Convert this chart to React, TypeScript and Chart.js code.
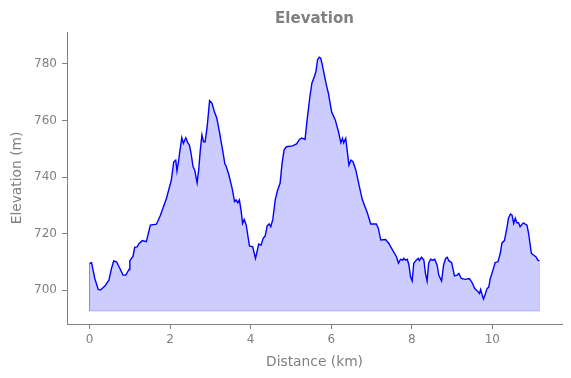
import React, { useEffect, useRef } from "react";
import { Chart, registerables } from "chart.js";

Chart.register(...registerables);

const distKm: number[] = [
  0.0, 0.05, 0.13, 0.215, 0.27, 0.38, 0.48, 0.545, 0.6, 0.67, 0.75, 0.83, 0.9, 0.98, 1.0, 1.08, 1.12, 1.18, 1.23, 1.31,
  1.41, 1.51, 1.66, 1.76, 1.91, 2.03, 2.09, 2.14, 2.17, 2.22, 2.235, 2.29, 2.33, 2.39, 2.44, 2.48, 2.52, 2.57, 2.61, 2.67,
  2.71, 2.75, 2.79, 2.83, 2.87, 2.92, 2.98, 3.04, 3.1, 3.16, 3.23, 3.31, 3.36, 3.39, 3.46, 3.54, 3.6, 3.64, 3.68, 3.72,
  3.76, 3.8, 3.84, 3.89, 3.97, 4.05, 4.12, 4.2, 4.26, 4.31, 4.36, 4.41, 4.46, 4.5, 4.55, 4.61, 4.67, 4.73, 4.78, 4.83,
  4.89, 5.04, 5.14, 5.21, 5.27, 5.35, 5.41, 5.47, 5.52, 5.58, 5.62, 5.66, 5.7, 5.74, 5.78, 5.87, 5.93, 6.01, 6.1, 6.18,
  6.24, 6.28, 6.31, 6.36, 6.4, 6.44, 6.49, 6.54, 6.61, 6.69, 6.77, 6.9, 6.98, 7.12, 7.17, 7.23, 7.35, 7.43, 7.52, 7.62,
  7.67, 7.72, 7.78, 7.8, 7.85, 7.89, 7.93, 7.97, 8.01, 8.05, 8.11, 8.16, 8.19, 8.24, 8.3, 8.34, 8.38, 8.42, 8.47, 8.52,
  8.57, 8.63, 8.67, 8.74, 8.79, 8.84, 8.88, 8.92, 8.99, 9.06, 9.13, 9.17, 9.23, 9.33, 9.43, 9.5, 9.56, 9.62, 9.68, 9.71,
  9.75, 9.78, 9.83, 9.87, 9.91, 9.95, 10.01, 10.07, 10.14, 10.2, 10.24, 10.3, 10.36, 10.4, 10.45, 10.49, 10.53, 10.57, 10.61, 10.65,
  10.69, 10.77, 10.86, 10.9, 10.97, 11.02, 11.08, 11.13, 11.17,
];

const elevM: number[] = [
  709.4, 709.7, 704.1, 700.2, 700.0, 701.4, 703.5, 707.7, 710.3, 710.0, 707.7, 705.3, 705.3, 707.3, 710.4, 712.0, 715.1, 715.3, 716.5, 717.5,
  717.1, 723.0, 723.3, 726.5, 732.5, 738.9, 745.4, 746.0, 742.1, 746.6, 748.4, 753.9, 751.9, 753.9, 752.1, 751.3, 748.4, 743.6, 742.5, 738.0,
  742.5, 749.6, 754.9, 752.5, 752.5, 757.8, 767.0, 766.1, 763.1, 760.8, 755.5, 749.0, 744.6, 743.9, 740.7, 736.0, 731.3, 731.9, 730.9, 731.9,
  728.3, 723.6, 725.0, 723.0, 715.6, 715.3, 711.2, 716.3, 715.9, 718.3, 719.1, 722.7, 723.4, 722.4, 725.0, 731.9, 735.4, 737.8, 744.8, 749.6,
  750.7, 751.0, 751.7, 753.3, 753.8, 753.3, 761.3, 768.4, 773.2, 775.5, 777.3, 781.4, 782.4, 782.0, 779.6, 773.2, 769.6, 763.1, 760.2, 756.0,
  752.1, 753.7, 752.1, 753.7, 749.0, 744.2, 746.0, 745.4, 742.5, 737.2, 732.1, 727.2, 723.4, 723.4, 721.8, 717.7, 717.9, 716.5, 714.2, 711.8,
  709.5, 710.9, 710.6, 711.2, 710.6, 710.9, 708.8, 704.7, 703.2, 709.5, 710.6, 711.2, 710.4, 711.6, 710.6, 705.9, 703.2, 709.5, 710.9, 710.6,
  710.9, 708.8, 705.3, 703.2, 708.8, 711.2, 711.6, 710.4, 709.7, 705.0, 705.3, 705.9, 704.1, 703.8, 704.1, 702.6, 700.6, 699.8, 698.8, 700.2,
  698.2, 696.8, 698.8, 700.6, 701.0, 704.1, 706.8, 709.7, 710.0, 713.2, 716.7, 717.5, 721.8, 725.4, 726.9, 726.5, 723.6, 725.4, 723.8, 723.8,
  722.4, 723.8, 723.0, 720.1, 713.0, 712.4, 711.8, 710.6, 710.3,
];

const fillBase = 692.6;
const xTicks: number[] = [0, 2, 4, 6, 8, 10];
const yTicks: number[] = [700, 720, 740, 760, 780];
const xRange: [number, number] = [-0.56, 11.73];
const yRange: [number, number] = [688.0, 791.3];

const titleText = "Elevation";
const xLabel = "Distance (km)";
const yLabel = "Elevation (m)";

const GRAY = "#808080";
const FONT = "'DejaVu Sans', sans-serif";

export default function App() {
  const ref = useRef<HTMLCanvasElement | null>(null);

  useEffect(() => {
    if (!ref.current) return;
    const linePts = distKm.map((x, i) => ({ x, y: elevM[i] }));
    const last = distKm.length - 1;
    const edgePts = [
      { x: distKm[0], y: elevM[0] },
      { x: distKm[0], y: fillBase },
      { x: distKm[last], y: fillBase },
      { x: distKm[last], y: elevM[last] },
    ];
    const chart = new Chart(ref.current, {
      type: "line",
      data: {
        datasets: [
          {
            data: linePts,
            borderColor: "#0000ff",
            borderWidth: 1.4,
            backgroundColor: "rgba(0,0,255,0.2)",
            fill: { value: fillBase },
            pointRadius: 0,
            tension: 0,
            order: 0,
          },
          {
            data: edgePts,
            borderColor: "rgba(0,0,255,0.2)",
            borderWidth: 1,
            fill: false,
            pointRadius: 0,
            tension: 0,
            order: 1,
          },
        ],
      },
      options: {
        animation: false,
        responsive: false,
        layout: { padding: { left: 0, right: 9, top: 0, bottom: 0 } },
        plugins: {
          legend: { display: false },
          tooltip: { enabled: false },
          title: {
            display: true,
            text: titleText,
            fullSize: false,
            color: GRAY,
            font: { family: FONT, size: 15, weight: "bold" },
            padding: { top: 10, bottom: 4 },
          },
        },
        scales: {
          x: {
            type: "linear",
            min: xRange[0],
            max: xRange[1],
            afterBuildTicks: (s: any) => {
              s.ticks = xTicks.map((v) => ({ value: v }));
            },
            afterFit: (s: any) => {
              s.height = 54;
            },
            ticks: {
              color: GRAY,
              font: { family: FONT, size: 12 },
              padding: 4,
              maxRotation: 0,
            },
            grid: {
              display: true,
              drawOnChartArea: false,
              drawTicks: true,
              tickLength: 5,
              color: GRAY,
            },
            border: { display: true, color: GRAY, width: 1 },
            title: {
              display: true,
              text: xLabel,
              color: GRAY,
              font: { family: FONT, size: 13.8 },
              padding: { top: 0, bottom: 7 },
            },
          },
          y: {
            type: "linear",
            min: yRange[0],
            max: yRange[1],
            afterBuildTicks: (s: any) => {
              s.ticks = yTicks.map((v) => ({ value: v }));
            },
            afterFit: (s: any) => {
              s.width = 67;
            },
            ticks: {
              color: GRAY,
              font: { family: FONT, size: 12 },
              padding: 5,
            },
            grid: {
              display: true,
              drawOnChartArea: false,
              drawTicks: true,
              tickLength: 5,
              color: GRAY,
            },
            border: { display: true, color: GRAY, width: 1 },
            title: {
              display: true,
              text: yLabel,
              color: GRAY,
              font: { family: FONT, size: 13.8 },
              padding: { top: 9, bottom: 0 },
            },
          },
        },
      },
    });
    return () => chart.destroy();
  }, []);

  return (
    <div style={{ position: "fixed", left: 0, top: 0, width: 571, height: 378, background: "#fff" }}>
      <canvas ref={ref} width={571} height={378} style={{ display: "block", width: 571, height: 378 }} />
    </div>
  );
}
